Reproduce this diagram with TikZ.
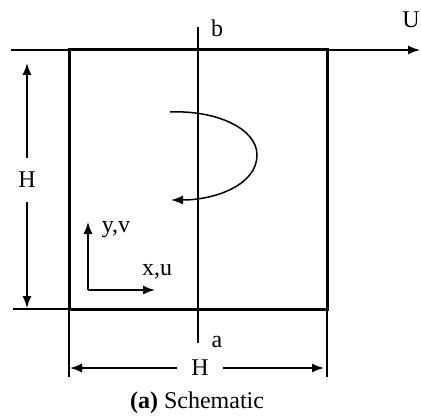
\documentclass[tikz,border=0pt]{standalone}
\usepackage{fontspec}
\setmainfont{Liberation Serif}
\usetikzlibrary{arrows.meta,positioning,calc}

\begin{document}
\begin{tikzpicture}[x=0.5pt, y=-0.5pt, >={Latex[length=6pt,width=4.5pt]},
		font=\fontsize{12}{14}\selectfont]
	\useasboundingbox (0,0) rectangle (421,416);

	\tikzset{
		wall/.style={line width=1.5pt},
		thinline/.style={line width=0.75pt},
		dimlabel/.style={inner sep=7pt},
	}

	% ---------- cavity geometry (pixel units, y down)
	\coordinate (NW) at (69,50);
	\coordinate (NE) at (327,50);
	\coordinate (SW) at (69,309);
	\coordinate (SE) at (327,309);

	% moving lid line with velocity U
	\coordinate (LidL) at (11,50);
	\coordinate (LidR) at (420,50);
	\draw[thinline, ->] (LidL) -- (LidR);
	\node (Ulab) at (411,20) {U};

	% cavity walls
	\draw[wall] (NW) -- (NE) -- (SE) -- (SW) -- cycle;

	% centre line a--b
	\coordinate (Cb) at (198,27);
	\coordinate (Ca) at (198,343);
	\draw[thinline] (Ca) -- (Cb);
	\node (blab) at (217,28) {b};
	\node (alab) at (217,342) {a};

	% circulation arrow
	\coordinate (Vs) at (170,112);
	\coordinate (Vm) at (257,155);
	\coordinate (Ve) at (171,200);
	\draw[thinline, ->] (Vs) .. controls (215,110) and (257,128) .. (Vm)
		.. controls (257,185) and (215,200) .. (Ve);

	% coordinate axes
	\coordinate (Ax) at (88,290);
	\coordinate (Ay) at (88,222);
	\coordinate (Axr) at (155,290);
	\draw[thinline, ->] (Ax) -- (Ay);
	\draw[thinline, ->] (Ax) -- (Axr);
	\node (yvlab) at (116,230) {y,v};
	\node (xulab) at (157,272) {x,u};

	% height dimension (left)
	\draw[thinline] (13,309) -- (SW);
	\node[dimlabel] (Hleft) at (27,180) {H};
	\draw[thinline, ->] (Hleft.north) -- (27,63);
	\draw[thinline, ->] (Hleft.south) -- (27,308);

	% width dimension (bottom)
	\draw[thinline] (SW) -- (69,377);
	\draw[thinline] (SE) -- (327,377);
	\node[dimlabel] (Hbot) at (200,368) {H};
	\draw[thinline, ->] (Hbot.west) -- (70,368);
	\draw[thinline, ->] (Hbot.east) -- (324,368);

	% caption
	\node (cap) at (197,403) {\textbf{(a)} Schematic};
\end{tikzpicture}
\end{document}
